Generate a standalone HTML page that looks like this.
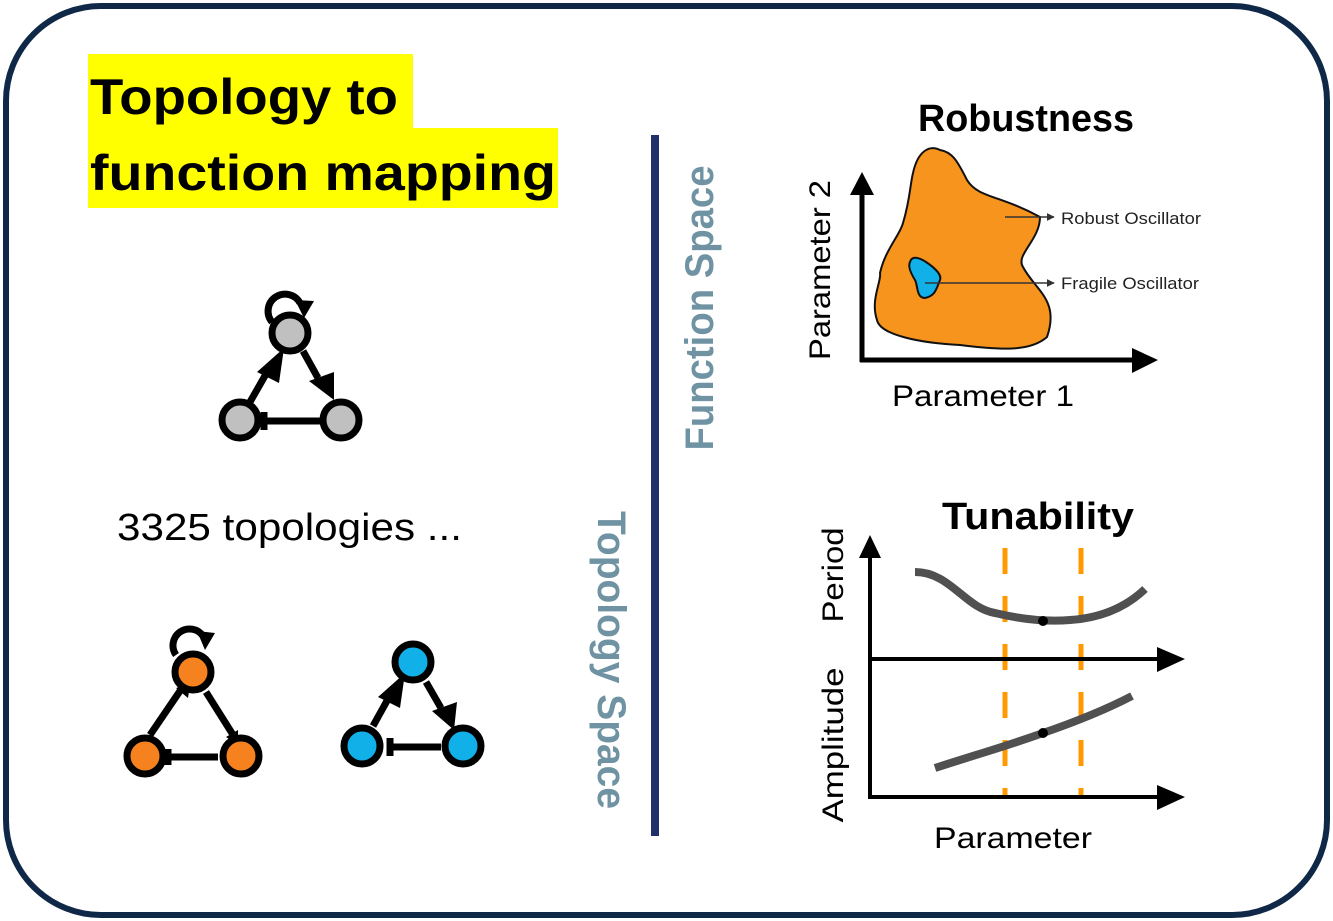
<!DOCTYPE html>
<html><head><meta charset="utf-8"><style>
html,body{margin:0;padding:0;background:#fff;}
svg{display:block;font-family:"Liberation Sans","DejaVu Sans",sans-serif;}
</style></head><body>
<svg width="1333" height="921" viewBox="0 0 1333 921" xmlns="http://www.w3.org/2000/svg">
<defs>
<marker id="ah" viewBox="0 0 10 10" refX="9" refY="5" markerWidth="8" markerHeight="8" orient="auto" markerUnits="userSpaceOnUse"><path d="M0,0 L10,5 L0,10 z" fill="#333"/></marker>
</defs>
<rect x="6" y="6" width="1321" height="909" rx="95" ry="95" fill="#fff" stroke="#0f2847" stroke-width="6"/>

<!-- title -->
<rect x="88" y="54" width="325" height="76" fill="#ffff00"/>
<rect x="88" y="128" width="470" height="80" fill="#ffff00"/>
<text x="90" y="114" font-size="50" font-weight="bold" textLength="308" lengthAdjust="spacingAndGlyphs">Topology to</text>
<text x="90" y="190" font-size="50" font-weight="bold" textLength="466" lengthAdjust="spacingAndGlyphs">function mapping</text>

<!-- divider -->
<rect x="651" y="135" width="8" height="701" fill="#22306a"/>
<text transform="translate(713,308) rotate(-90)" text-anchor="middle" font-size="40" font-weight="bold" fill="#7093a3" textLength="285" lengthAdjust="spacingAndGlyphs">Function Space</text>
<text transform="translate(598,660) rotate(90)" text-anchor="middle" font-size="40" font-weight="bold" fill="#7093a3" textLength="298" lengthAdjust="spacingAndGlyphs">Topology Space</text>

<!-- gray network -->
<g stroke="#000" stroke-width="7" fill="none">
<path d="M272,322 A17,17 0 1 1 300,303"/>
<line x1="250" y1="402" x2="266" y2="374"/>
<line x1="303" y1="351" x2="318" y2="378"/>
<line x1="320" y1="421" x2="265" y2="421"/>
<line x1="264" y1="412" x2="264" y2="430"/>
</g>
<path d="M295,300 L314,301 L304,318 z" fill="#000"/>
<path d="M257,372 L284,348 L279,383 z" fill="#000"/>
<path d="M309,381 L334,372 L334,400 z" fill="#000"/>
<g stroke="#000" stroke-width="7" fill="#c0c0c0">
<circle cx="290" cy="333" r="18"/>
<circle cx="240" cy="420" r="18"/>
<circle cx="341" cy="420" r="18"/>
</g>

<text x="117" y="540" font-size="38" textLength="345" lengthAdjust="spacingAndGlyphs">3325 topologies ...</text>

<!-- orange network -->
<g stroke="#000" stroke-width="7" fill="none">
<path d="M176,655 A15,15 0 1 1 203,636"/>
<line x1="150" y1="735" x2="182" y2="688"/>
<line x1="206" y1="692" x2="235" y2="738"/>
<line x1="218" y1="757" x2="168" y2="757"/>
<line x1="168" y1="749" x2="168" y2="765"/>
</g>
<path d="M197,631 L215,633 L205,650 z" fill="#000"/>
<path d="M176,688 L190,684 L188,698 z" fill="#000"/>
<path d="M226,737 L238,730 L238,745 z" fill="#000"/>
<g stroke="#000" stroke-width="7" fill="#f6821f">
<circle cx="193" cy="672" r="18"/>
<circle cx="145" cy="756" r="18"/>
<circle cx="241" cy="756" r="18"/>
</g>

<!-- blue network -->
<g stroke="#000" stroke-width="7" fill="none">
<line x1="373" y1="726" x2="388" y2="699"/>
<line x1="426" y1="682" x2="441" y2="708"/>
<line x1="441" y1="747" x2="390" y2="747"/>
<line x1="390" y1="738" x2="390" y2="756"/>
</g>
<path d="M378,697 L405,673 L400,708 z" fill="#000"/>
<path d="M432,711 L457,702 L454,730 z" fill="#000"/>
<g stroke="#000" stroke-width="7" fill="#12b0e8">
<circle cx="413" cy="662" r="18"/>
<circle cx="362" cy="746" r="18"/>
<circle cx="463" cy="746" r="18"/>
</g>

<!-- Robustness -->
<text x="1026" y="131" text-anchor="middle" font-size="38" font-weight="bold" textLength="216" lengthAdjust="spacingAndGlyphs">Robustness</text>
<path d="M913,173 C918,150 930,145 940,150 C952,152 957,160 967,180 C978,198 1000,195 1040,217 C1040,240 1015,255 1023,267 C1035,290 1060,300 1047,337 C1030,352 1000,350 960,345 C920,343 880,335 877,320 C870,300 882,280 880,273 C885,250 900,235 903,223 C910,200 910,185 913,173 z" fill="#f7941d" stroke="#111" stroke-width="2"/>
<path d="M910,262 C912,255 920,258 926,262 C935,268 942,275 940,280 C936,290 935,296 925,298 C916,298 918,285 915,280 C910,272 908,266 910,262 z" fill="#12b0e8" stroke="#111" stroke-width="2"/>
<line x1="1005" y1="217" x2="1054" y2="217" stroke="#333" stroke-width="1.5" marker-end="url(#ah)"/>
<line x1="925" y1="283" x2="1054" y2="283" stroke="#333" stroke-width="1.5" marker-end="url(#ah)"/>
<text x="1061" y="224" font-size="17" fill="#222" textLength="140" lengthAdjust="spacingAndGlyphs">Robust Oscillator</text>
<text x="1061" y="289" font-size="17" fill="#222" textLength="138" lengthAdjust="spacingAndGlyphs">Fragile Oscillator</text>
<line x1="862" y1="192" x2="862" y2="362" stroke="#000" stroke-width="5"/>
<line x1="860" y1="360" x2="1135" y2="360" stroke="#000" stroke-width="5"/>
<path d="M850,195 L874,195 L862,172 z" fill="#000"/>
<path d="M1132,348 L1158,360 L1132,373 z" fill="#000"/>
<text transform="translate(830,270) rotate(-90)" text-anchor="middle" font-size="30" textLength="180" lengthAdjust="spacingAndGlyphs">Parameter 2</text>
<text x="983" y="406" text-anchor="middle" font-size="30" textLength="182" lengthAdjust="spacingAndGlyphs">Parameter 1</text>

<!-- Tunability -->
<text x="1038" y="529" text-anchor="middle" font-size="38" font-weight="bold" textLength="192" lengthAdjust="spacingAndGlyphs">Tunability</text>
<g stroke="#ff9900" stroke-width="5" stroke-dasharray="26,22">
<line x1="1005" y1="548" x2="1005" y2="797"/>
<line x1="1081" y1="548" x2="1081" y2="797"/>
</g>
<path d="M915,572 C950,572 965,608 995,613 C1020,619 1045,622 1070,620 C1100,618 1125,608 1145,589" fill="none" stroke="#505050" stroke-width="8"/>
<path d="M935,768 C975,755 1010,745 1043,733 C1075,722 1105,710 1132,696" fill="none" stroke="#505050" stroke-width="8"/>
<circle cx="1043" cy="621" r="5" fill="#000"/>
<circle cx="1043" cy="733" r="5" fill="#000"/>
<line x1="870" y1="555" x2="870" y2="798" stroke="#000" stroke-width="4"/>
<line x1="868" y1="659" x2="1160" y2="659" stroke="#000" stroke-width="4"/>
<line x1="868" y1="797" x2="1160" y2="797" stroke="#000" stroke-width="4"/>
<path d="M859,558 L881,558 L870,535 z" fill="#000"/>
<path d="M1157,647 L1185,659 L1157,672 z" fill="#000"/>
<path d="M1157,785 L1185,797 L1157,810 z" fill="#000"/>
<text transform="translate(843,575) rotate(-90)" text-anchor="middle" font-size="30" textLength="95" lengthAdjust="spacingAndGlyphs">Period</text>
<text transform="translate(843,745) rotate(-90)" text-anchor="middle" font-size="30" textLength="155" lengthAdjust="spacingAndGlyphs">Amplitude</text>
<text x="1013" y="848" text-anchor="middle" font-size="30" textLength="158" lengthAdjust="spacingAndGlyphs">Parameter</text>
</svg>
</body></html>
